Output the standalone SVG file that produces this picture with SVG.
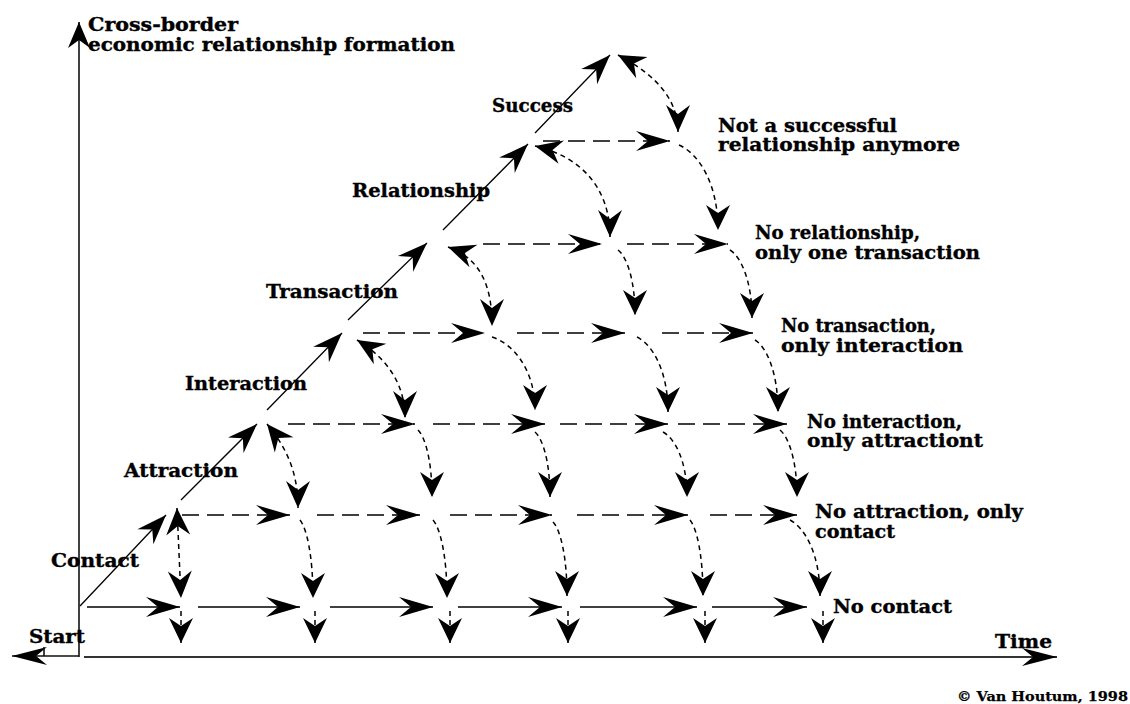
<svg xmlns="http://www.w3.org/2000/svg" width="1130" height="704" viewBox="0 0 1130 704">
<style>
.t{font-family:"DejaVu Serif","Liberation Serif",serif;font-weight:bold;font-size:18px;fill:#000;stroke:#000;stroke-width:0.35}
.c{font-size:13.5px;stroke-width:0.25}
.ax{stroke:#111;stroke-width:1.6;fill:none}
.tm{stroke:#333;stroke-width:2;fill:none}
.sol{stroke:#000;stroke-width:1.3;fill:none}
.dsh{stroke:#000;stroke-width:1.4;stroke-dasharray:17 8;fill:none}
.dot{stroke:#000;stroke-width:1.5;stroke-dasharray:5 4;fill:none}
.h{marker-end:url(#ah)}
.d{marker-end:url(#ad)}
.v{marker-end:url(#av)}
.b{marker-start:url(#ab);marker-end:url(#ab)}
</style>
<defs>
<marker id="ah" markerUnits="userSpaceOnUse" viewBox="-36 -12 38 24" markerWidth="38" markerHeight="24" refX="0" refY="0" orient="auto"><path d="M0,0 L-34,-10 L-22,0 L-34,10 Z" fill="#000"/></marker>
<marker id="ad" markerUnits="userSpaceOnUse" viewBox="-32 -13 34 26" markerWidth="34" markerHeight="26" refX="0" refY="0" orient="auto"><path d="M0,0 L-30,-11 L-20,0 L-30,11 Z" fill="#000"/></marker>
<marker id="av" markerUnits="userSpaceOnUse" viewBox="-27 -13 29 26" markerWidth="29" markerHeight="26" refX="0" refY="0" orient="auto"><path d="M0,0 L-25,-12 L-17,0 L-25,12 Z" fill="#000"/></marker>
<marker id="ab" markerUnits="userSpaceOnUse" viewBox="-29 -13 31 26" markerWidth="31" markerHeight="26" refX="0" refY="0" orient="auto-start-reverse"><path d="M0,0 L-27,-12 L-18,0 L-27,12 Z" fill="#000"/></marker>
<marker id="ay" markerUnits="userSpaceOnUse" viewBox="-28 -12 30 24" markerWidth="30" markerHeight="24" refX="0" refY="0" orient="auto"><path d="M0,0 L-26,-11 L-18,0 L-26,11 Z" fill="#000"/></marker>
<marker id="at" markerUnits="userSpaceOnUse" viewBox="-37 -11 39 22" markerWidth="39" markerHeight="22" refX="0" refY="0" orient="auto"><path d="M0,0 L-35,-9 L-24,0 L-35,9 Z" fill="#000"/></marker>
</defs>

<g id="axes">
<line class="ax" x1="79" y1="657" x2="79" y2="22" marker-end="url(#ay)"/>
<line class="tm" x1="84" y1="657" x2="1057" y2="657" marker-end="url(#at)"/>
<line class="ax" x1="79" y1="656" x2="12" y2="656" marker-end="url(#at)"/>
<line class="ax" x1="44" y1="647" x2="44" y2="656"/>
</g>

<g id="connectors">
<line class="sol d" x1="80" y1="606" x2="166" y2="515"/>
<line class="sol d" x1="181" y1="500" x2="257" y2="424"/>
<line class="sol d" x1="267" y1="410" x2="342" y2="333"/>
<line class="sol d" x1="348" y1="320" x2="427" y2="243"/>
<line class="sol d" x1="443" y1="230" x2="528" y2="144"/>
<line class="sol d" x1="535" y1="133" x2="610" y2="55"/>
<line class="sol h" x1="87" y1="607" x2="180" y2="607"/>
<line class="sol h" x1="198" y1="607" x2="300" y2="607"/>
<line class="sol h" x1="330" y1="607" x2="433" y2="607"/>
<line class="sol h" x1="458" y1="607" x2="562" y2="607"/>
<line class="sol h" x1="580" y1="607" x2="697" y2="607"/>
<line class="sol h" x1="712" y1="607" x2="807" y2="607"/>
<line class="dot v" x1="181" y1="611" x2="181" y2="643"/>
<line class="dot v" x1="315" y1="611" x2="315" y2="643"/>
<line class="dot v" x1="450" y1="611" x2="450" y2="643"/>
<line class="dot v" x1="568" y1="611" x2="568" y2="643"/>
<line class="dot v" x1="705" y1="611" x2="705" y2="643"/>
<line class="dot v" x1="823" y1="611" x2="823" y2="643"/>
<line class="dsh h" x1="182" y1="515" x2="290" y2="515"/>
<line class="dsh h" x1="317" y1="515" x2="420" y2="515"/>
<line class="dsh h" x1="450" y1="515" x2="552" y2="515"/>
<line class="dsh h" x1="577" y1="515" x2="688" y2="515"/>
<line class="dsh h" x1="710" y1="515" x2="797" y2="515"/>
<line class="dsh h" x1="288" y1="424" x2="415" y2="424"/>
<line class="dsh h" x1="433" y1="424" x2="545" y2="424"/>
<line class="dsh h" x1="560" y1="424" x2="668" y2="424"/>
<line class="dsh h" x1="678" y1="424" x2="787" y2="424"/>
<line class="dsh h" x1="363" y1="333" x2="485" y2="333"/>
<line class="dsh h" x1="517" y1="333" x2="625" y2="333"/>
<line class="dsh h" x1="662" y1="333" x2="753" y2="333"/>
<line class="dsh h" x1="483" y1="244" x2="602" y2="244"/>
<line class="dsh h" x1="627" y1="244" x2="728" y2="244"/>
<line class="dsh h" x1="543" y1="141" x2="670" y2="141"/>
<path class="dot v" d="M300,520 C306.5,528 313,555 313,598"/>
<path class="dot v" d="M433,520 C440,528 447,555 447,598"/>
<path class="dot v" d="M553,522 C560,529 567,555 567,596"/>
<path class="dot v" d="M690,520 C696.5,528 703,554 703,596"/>
<path class="dot v" d="M790,520 C805,528 820,554 820,596"/>
<path class="dot v" d="M418,430 C425,437 432,460 432,497"/>
<path class="dot v" d="M535,432 C542.5,438.5 550,461 550,497"/>
<path class="dot v" d="M663,432 C675,438.5 687,461 687,497"/>
<path class="dot v" d="M780,430 C788.5,437 797,460 797,497"/>
<path class="dot v" d="M492,337 C513.5,344 535,370 535,410"/>
<path class="dot v" d="M637,337 C652.5,344.5 668,371 668,412"/>
<path class="dot v" d="M755,340 C766.5,347 778,372 778,412"/>
<path class="dot v" d="M618,250 C626.5,256.5 635,279 635,315"/>
<path class="dot v" d="M730,250 C741,257 752,281 752,318"/>
<path class="dot v" d="M679,145 C698.5,153.5 718,183 718,230"/>
<path class="dot b" d="M177,508 L181,598"/>
<path class="dot b" d="M267,424 C285,446 298,470 298,508"/>
<path class="dot b" d="M357,340 C385,357 405,382 405,418"/>
<path class="dot b" d="M448,247 C482,259 492,288 492,326"/>
<path class="dot b" d="M535,146 C578,156 610,185 610,237"/>
<path class="dot b" d="M618,55 C650,72 678,95 678,132"/>
</g>

<g id="title"><text class="t" x="88" y="31" textLength="150" lengthAdjust="spacingAndGlyphs">Cross-border</text>
<text class="t" x="88" y="51" textLength="367" lengthAdjust="spacingAndGlyphs">economic relationship formation</text></g>
<g id="success"><text class="t" x="492" y="112" textLength="81" lengthAdjust="spacingAndGlyphs">Success</text></g>
<g id="relationship"><text class="t" x="352" y="197" textLength="138" lengthAdjust="spacingAndGlyphs">Relationship</text></g>
<g id="transaction"><text class="t" x="266" y="298" textLength="132" lengthAdjust="spacingAndGlyphs">Transaction</text></g>
<g id="interaction"><text class="t" x="185" y="390" textLength="122" lengthAdjust="spacingAndGlyphs">Interaction</text></g>
<g id="attraction"><text class="t" x="124" y="477" textLength="114" lengthAdjust="spacingAndGlyphs">Attraction</text></g>
<g id="contact"><text class="t" x="51" y="567" textLength="88" lengthAdjust="spacingAndGlyphs">Contact</text></g>
<g id="start"><text class="t" x="29" y="643" textLength="56" lengthAdjust="spacingAndGlyphs">Start</text></g>
<g id="time"><text class="t" x="995" y="648" textLength="57" lengthAdjust="spacingAndGlyphs">Time</text></g>
<g id="out5"><text class="t" x="718" y="132" textLength="179" lengthAdjust="spacingAndGlyphs">Not a successful</text>
<text class="t" x="718" y="151" textLength="242" lengthAdjust="spacingAndGlyphs">relationship anymore</text></g>
<g id="out4"><text class="t" x="755" y="239" textLength="165" lengthAdjust="spacingAndGlyphs">No relationship,</text>
<text class="t" x="755" y="259" textLength="225" lengthAdjust="spacingAndGlyphs">only one transaction</text></g>
<g id="out3"><text class="t" x="781" y="332" textLength="155" lengthAdjust="spacingAndGlyphs">No transaction,</text>
<text class="t" x="781" y="352" textLength="182" lengthAdjust="spacingAndGlyphs">only interaction</text></g>
<g id="out2"><text class="t" x="807" y="428" textLength="155" lengthAdjust="spacingAndGlyphs">No interaction,</text>
<text class="t" x="807" y="447" textLength="176" lengthAdjust="spacingAndGlyphs">only attractiont</text></g>
<g id="out1"><text class="t" x="815" y="518" textLength="208" lengthAdjust="spacingAndGlyphs">No attraction, only</text>
<text class="t" x="815" y="538" textLength="80" lengthAdjust="spacingAndGlyphs">contact</text></g>
<g id="out0"><text class="t" x="833" y="613" textLength="119" lengthAdjust="spacingAndGlyphs">No contact</text></g>
<g id="copyright"><text class="t c" x="957" y="701" textLength="171" lengthAdjust="spacingAndGlyphs">© Van Houtum, 1998</text></g>
</svg>
